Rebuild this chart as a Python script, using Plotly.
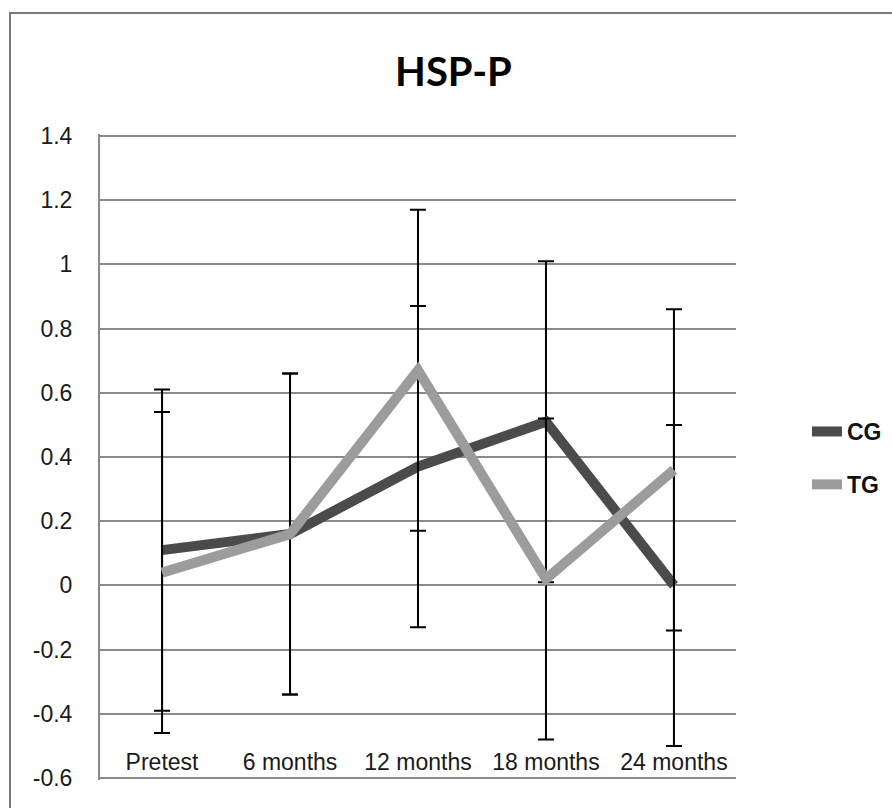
import plotly.graph_objects as go

categories = ["Pretest", "6 months", "12 months", "18 months", "24 months"]
cg_values = [0.11, 0.16, 0.37, 0.51, 0.0]
tg_values = [0.04, 0.16, 0.67, 0.02, 0.36]
cg_errors = [0.5, 0.5, 0.5, 0.5, 0.5]
tg_errors = [0.5, 0.5, 0.5, 0.5, 0.5]
y_tick_values = [-0.6, -0.4, -0.2, 0, 0.2, 0.4, 0.6, 0.8, 1.0, 1.2, 1.4]
y_tick_labels = ["-0.6", "-0.4", "-0.2", "0", "0.2", "0.4", "0.6", "0.8", "1", "1.2", "1.4"]

W, H = 892, 808
L, R, T, B = 100, 156, 134, 28
pw, ph = W - L - R, H - T - B

def px_x(p):
    return (p - L) / pw

def px_y(p):
    return (H - B - p) / ph

fig = go.Figure()
fig.add_trace(go.Scatter(
    x=categories, y=cg_values, name="<b>CG</b>", mode="lines",
    line=dict(color="#4b4b4b", width=10),
    error_y=dict(type="data", array=cg_errors, color="black", thickness=2, width=8),
    legendgroup="CG",
))
fig.add_trace(go.Scatter(
    x=categories, y=tg_values, name="<b>TG</b>", mode="lines",
    line=dict(color="#9c9c9c", width=10),
    error_y=dict(type="data", array=tg_errors, color="black", thickness=2, width=8),
    legendgroup="TG",
))

grid_col = "#8a8a8a"
fig.update_layout(
    width=W, height=H,
    margin=dict(l=L, r=R, t=T, b=B, autoexpand=False),
    paper_bgcolor="white", plot_bgcolor="white",
    title=dict(text="<b>HSP-P</b>", x=453.5 / W, xanchor="center",
               y=1 - 72 / H, yanchor="middle",
               font=dict(family="Lato", size=40, color="black")),
    font=dict(family="Liberation Sans, Arial", size=23, color="#1a1a1a"),
    showlegend=True,
    legend=dict(x=px_x(807), y=px_y(410), xanchor="left", yanchor="top",
                traceorder="grouped", tracegroupgap=20,
                font=dict(family="Liberation Sans, Arial", size=23, color="#111"),
                bgcolor="rgba(0,0,0,0)"),
    xaxis=dict(
        type="category", range=[-0.485, 4.485],
        showgrid=False, zeroline=False, showline=False,
        anchor="free", position=px_y(746),
        ticks="", ticklabelstandoff=0,
        tickfont=dict(family="Liberation Sans, Arial", size=23, color="#1a1a1a"),
    ),
    yaxis=dict(
        range=[-0.606, 1.406],
        tickvals=y_tick_values, ticktext=y_tick_labels,
        showgrid=True, gridcolor=grid_col, gridwidth=2,
        zeroline=False,
        showline=True, linecolor=grid_col, linewidth=2,
        ticks="", ticklabelstandoff=21,
        tickfont=dict(family="Liberation Sans, Arial", size=23, color="#1a1a1a"),
    ),
)

fig.add_shape(type="rect", xref="paper", yref="paper",
              x0=px_x(10), x1=px_x(897), y0=px_y(815), y1=px_y(13),
              line=dict(color="#7a7a7a", width=2), fillcolor="rgba(0,0,0,0)",
              layer="below")

fig.write_html("out.html", config={"displayModeBar": False},
               post_script="document.body.style.margin='0';")
